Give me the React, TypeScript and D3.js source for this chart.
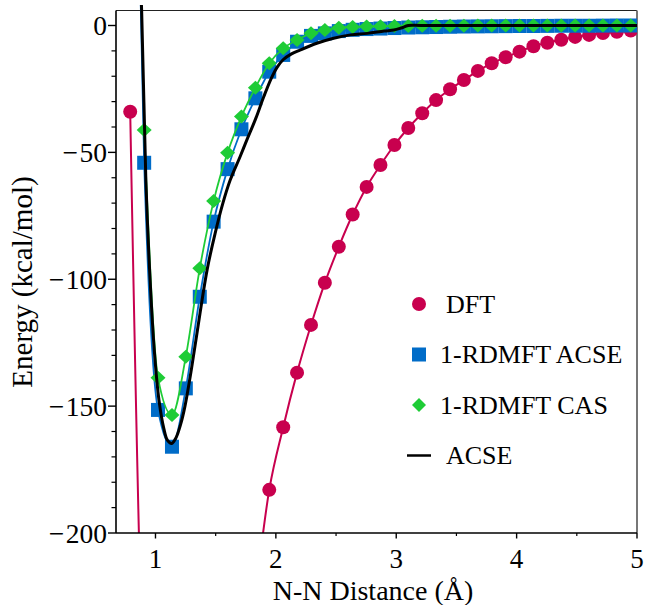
import React from "react";
import * as d3 from "d3";

const W = 650;
const H = 605;

// Bond distances (Å) shared by the marker series
const distances = [
  0.79, 0.906, 1.021, 1.137, 1.252, 1.368, 1.483, 1.599, 1.714, 1.83, 1.945, 2.061,
  2.176, 2.292, 2.407, 2.523, 2.638, 2.754, 2.869, 2.985, 3.1, 3.216, 3.331, 3.447,
  3.562, 3.678, 3.793, 3.909, 4.024, 4.14, 4.255, 4.371, 4.486, 4.602, 4.717, 4.833, 4.948,
];

// DFT energies (kcal/mol); values at 0.906–1.83 lie below the plotted range
const dftEnergy = [
  -34, -270, -330, -345, -340, -322, -300, -275, -250, -222, -183, -158.3,
  -136.8, -118, -101.4, -87.2, -74.5, -63.6, -55, -47.1, -40.4, -34.6, -29.4, -25.1,
  -21.5, -17.9, -14.9, -12.5, -10.3, -8.2, -6.8, -5.6, -4.5, -3.7, -3.0, -2.5, -2.0,
];

// 1-RDMFT ACSE energies (first value lies above the plotted range)
const rdmftAcseEnergy = [
  200, -54.1, -151.5, -166, -143, -106.9, -77.3, -56.6, -40.9, -28.7, -18.2, -11.6,
  -6.4, -4.1, -3.1, -2.2, -1.7, -1.4, -1.2, -1.0, -0.8, -0.7, -0.6, -0.5,
  -0.4, -0.35, -0.3, -0.25, -0.2, -0.2, -0.15, -0.1, -0.1, -0.1, -0.05, 0, 0,
];

// 1-RDMFT CAS energies (no value at the first distance)
const rdmftCasEnergy = [
  null, -41.2, -138.8, -153.5, -130.5, -95.7, -69.2, -50.1, -35.9, -24.5, -14.9, -9.0,
  -5.7, -3.1, -1.8, -0.9, -0.6, -0.4, -0.3, -0.2, -0.15, -0.1, -0.1, -0.1,
  -0.05, 0, 0, 0, 0, 0, 0, 0, 0, 0, 0, 0, 0,
];

// ACSE reference curve
const acseDistance = [
  0.86, 0.885, 0.92, 0.955, 0.99, 1.03, 1.07, 1.1, 1.135, 1.17, 1.21, 1.245, 1.3, 1.37,
  1.43, 1.495, 1.56, 1.62, 1.7, 1.76, 1.83, 1.9, 1.96, 2.01, 2.06, 2.13, 2.2, 2.34, 2.48,
  2.62, 2.76, 2.9, 2.98, 3.04, 3.1, 3.2, 3.5, 4.0, 4.5, 5.05,
];
const acseEnergy = [
  30, 6, -61, -100, -128, -148, -159, -163.5, -164.7, -162.5, -157, -150, -135, -113.4,
  -96, -82, -70, -61, -52, -45, -37, -28, -21, -16.5, -13.5, -11.2, -9.7, -7, -5,
  -3.7, -3.1, -2.2, -1.8, -1.0, 0, 0, 0, 0, 0, 0,
];

const xMajorTicks = [1, 2, 3, 4, 5];
const xMinorTicks = [1.5, 2.5, 3.5, 4.5];
const yMajorTicks = [0, -50, -100, -150, -200];
const yMinorTicks = [-10, -20, -30, -40, -60, -70, -80, -90, -110, -120, -130, -140, -160, -170, -180, -190];

const legendLabels = ["DFT", "1-RDMFT ACSE", "1-RDMFT CAS", "ACSE"];

const COLORS = {
  dft: "#C8004E",
  acse1: "#006CC8",
  cas: "#1ECC36",
  acse: "#000000",
};

const FONT = "'Liberation Serif', 'Times New Roman', serif";

export default function App() {
  const left = 116;
  const right = 637;
  const top = 10.5;
  const bottom = 533;

  const x = d3.scaleLinear().domain([0.672, 5]).range([left, right]);
  const y = d3.scaleLinear().domain([-200, 0]).range([bottom, 25.5]);

  const curve = d3.curveMonotoneX;

  const seriesLine = (ys: (number | null)[]) =>
    d3
      .line<number>()
      .defined((_, i) => ys[i] !== null)
      .x((d) => x(d))
      .y((_, i) => y(ys[i] as number))
      .curve(curve)(distances) || "";

  const acseLine =
    d3
      .line<number>()
      .x((d) => x(d))
      .y((_, i) => y(acseEnergy[i]))
      .curve(d3.curveCatmullRom.alpha(0.5))(acseDistance) || "";

  const diamond = (cx: number, cy: number, hw = 7.5, hh = 7) =>
    `M${cx},${cy - hh}L${cx + hw},${cy}L${cx},${cy + hh}L${cx - hw},${cy}Z`;

  const minusLabel = (v: number) =>
    v < 0 ? (
      <>
        <tspan>{"\u2212"}</tspan>
        <tspan dx={1.5}>{String(Math.abs(v))}</tspan>
      </>
    ) : (
      String(v)
    );

  const legendX = 419;
  const legendY0 = 304;
  const legendStep = 50.5;

  return (
    <svg width={W} height={H} style={{ display: "block", position: "absolute", left: 0, top: 0 }}>
      <rect x={0} y={0} width={W} height={H} fill="#fff" />
      <defs>
        <clipPath id="plotClip">
          <rect x={left} y={5} width={right - left} height={bottom - 5} />
        </clipPath>
      </defs>

      {/* frame */}
      <line x1={left} x2={right} y1={top} y2={top} stroke="#222" strokeWidth={1.2} />
      <line x1={right} x2={right} y1={top} y2={bottom} stroke="#777" strokeWidth={2} />

      <g clipPath="url(#plotClip)">
        {/* DFT */}
        <path d={seriesLine(dftEnergy)} fill="none" stroke={COLORS.dft} strokeWidth={2} />
        {distances.map((d, i) => (
          <circle key={"c" + i} cx={x(d)} cy={y(dftEnergy[i])} r={7} fill={COLORS.dft} />
        ))}
        {/* 1-RDMFT ACSE */}
        <path d={seriesLine(rdmftAcseEnergy)} fill="none" stroke={COLORS.acse1} strokeWidth={1.8} />
        {distances.map((d, i) => (
          <rect
            key={"s" + i}
            x={x(d) - 7}
            y={y(rdmftAcseEnergy[i]) - 7}
            width={14}
            height={14}
            fill={COLORS.acse1}
          />
        ))}
        {/* 1-RDMFT CAS */}
        <path d={seriesLine(rdmftCasEnergy)} fill="none" stroke={COLORS.cas} strokeWidth={1.8} />
        {distances.map((d, i) =>
          rdmftCasEnergy[i] === null ? null : (
            <path key={"d" + i} d={diamond(x(d), y(rdmftCasEnergy[i] as number))} fill={COLORS.cas} />
          )
        )}
        {/* ACSE */}
        <path d={acseLine} fill="none" stroke={COLORS.acse} strokeWidth={3} />
      </g>

      {/* axes */}
      <line x1={left} x2={left} y1={top} y2={bottom} stroke="#000" strokeWidth={1.6} />
      <line x1={left} x2={right} y1={bottom} y2={bottom} stroke="#000" strokeWidth={1.6} />

      {yMajorTicks.map((t) => (
        <g key={"ym" + t}>
          <line x1={left - 8} x2={left} y1={y(t)} y2={y(t)} stroke="#000" strokeWidth={1.4} />
          <text
            x={left - 9}
            y={y(t)}
            textAnchor="end"
            dominantBaseline="central"
            fontFamily={FONT}
            fontSize={27.5}
            fill="#000"
          >
            {minusLabel(t)}
          </text>
        </g>
      ))}
      {yMinorTicks.map((t) => (
        <line key={"yn" + t} x1={left - 4.5} x2={left} y1={y(t)} y2={y(t)} stroke="#000" strokeWidth={1.2} />
      ))}

      {xMajorTicks.map((t) => (
        <g key={"xm" + t}>
          <line x1={x(t)} x2={x(t)} y1={bottom} y2={bottom + 5.5} stroke="#000" strokeWidth={1.4} />
          <text x={x(t)} y={568} textAnchor="middle" fontFamily={FONT} fontSize={27} fill="#000">
            {t}
          </text>
        </g>
      ))}
      {xMinorTicks.map((t) => (
        <line key={"xn" + t} x1={x(t)} x2={x(t)} y1={bottom} y2={bottom + 3} stroke="#000" strokeWidth={1.2} />
      ))}

      {/* axis titles */}
      <text x={373} y={600} textAnchor="middle" fontFamily={FONT} fontSize={28} fill="#000">
        N-N Distance (Å)
      </text>
      <text
        transform={`translate(32,${282}) rotate(-90)`}
        textAnchor="middle"
        fontFamily={FONT}
        fontSize={29}
        fill="#000"
      >
        Energy (kcal/mol)
      </text>

      {/* legend */}
      <g>
        <circle cx={legendX} cy={legendY0} r={7} fill={COLORS.dft} />
        <rect x={legendX - 7} y={legendY0 + legendStep - 7} width={14} height={14} fill={COLORS.acse1} />
        <path d={diamond(legendX, legendY0 + 2 * legendStep, 7, 7)} fill={COLORS.cas} />
        <line
          x1={legendX - 12}
          x2={legendX + 12}
          y1={legendY0 + 3 * legendStep}
          y2={legendY0 + 3 * legendStep}
          stroke={COLORS.acse}
          strokeWidth={2.5}
        />
        {legendLabels.map((lab, i) => (
          <text
            key={lab}
            x={i === 0 || i === 3 ? 446 : 440}
            y={legendY0 + i * legendStep + 8.5}
            fontFamily={FONT}
            fontSize={26}
            fill="#000"
          >
            {lab}
          </text>
        ))}
      </g>
    </svg>
  );
}
